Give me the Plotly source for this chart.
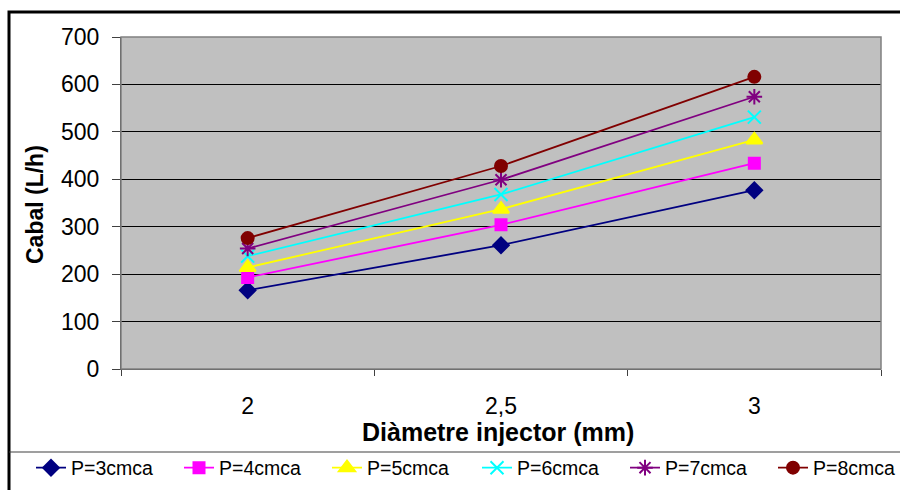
import plotly.graph_objects as go

categories = ["2", "2,5", "3"]
series_names = ["P=3cmca", "P=4cmca", "P=5cmca", "P=6cmca", "P=7cmca", "P=8cmca"]
p3 = [166, 261, 377]
p4 = [193, 304, 434]
p5 = [214, 337, 483]
p6 = [238, 368, 531]
p7 = [254, 399, 574]
p8 = [276, 428, 616]
y_ticks = [0, 100, 200, 300, 400, 500, 600, 700]

values = [p3, p4, p5, p6, p7, p8]
colors = ["#000080", "#FF00FF", "#FFFF00", "#00FFFF", "#800080", "#800000"]
symbols = ["diamond", "square", "triangle-up", "x-thin-open", "asterisk-open", "circle"]
sizes = [12, 11, 14, 13, 13, 12]
legend_groups = ["legend", "legend", "legend", "legend2", "legend2", "legend2"]

FONT = "Liberation Sans, Arial, sans-serif"
W, H = 900, 490
L, R, T, B = 121, 19, 37, 121
PW, PH = W - L - R, H - T - B

def px_x(x):
    return (x - L) / PW

def px_y(y):
    return (H - B - y) / PH

fig = go.Figure()
for name, vals, c, s, sz, lg in zip(series_names, values, colors, symbols, sizes, legend_groups):
    fig.add_trace(go.Scatter(
        x=categories, y=vals, name=name, mode="lines+markers",
        line=dict(color=c, width=1.8),
        marker=dict(symbol=s, size=sz, color=c, line=dict(color=c, width=2)),
        legend=lg,
    ))

legend_common = dict(
    orientation="h", xanchor="left", y=px_y(468), yanchor="middle",
    entrywidth=103, entrywidthmode="pixels",
    font=dict(size=19.5, family=FONT), bgcolor="rgba(0,0,0,0)",
    itemclick=False, itemdoubleclick=False,
)

fig.update_layout(
    width=W, height=H,
    margin=dict(l=L, r=R, t=T, b=B, autoexpand=False),
    paper_bgcolor="white",
    plot_bgcolor="#C0C0C0",
    font=dict(family=FONT, color="black"),
    showlegend=True,
    legend=dict(x=px_x(31), **legend_common),
    legend2=dict(x=px_x(477), **legend_common),
    xaxis=dict(
        type="category", range=[-0.5, 2.5], tickson="boundaries",
        ticks="outside", ticklen=6, tickcolor="#404040",
        showgrid=False, showline=True, linecolor="#404040", linewidth=1,
        tickfont=dict(size=23), ticklabelstandoff=16,
        zeroline=False,
    ),
    yaxis=dict(
        range=[0, 700], tickvals=y_ticks, ticks="outside", ticklen=8, tickcolor="#404040",
        showgrid=True, gridcolor="black", gridwidth=1,
        showline=True, linecolor="#404040", linewidth=1,
        tickfont=dict(size=23), ticklabelstandoff=8, zeroline=False,
    ),
    shapes=[
        dict(type="rect", xref="paper", yref="paper", x0=0, x1=1, y0=0, y1=1,
             line=dict(color="#808080", width=1.5), layer="above"),
        dict(type="rect", xref="paper", yref="paper",
             x0=px_x(9), x1=px_x(905), y0=px_y(12), y1=px_y(500),
             line=dict(color="black", width=3)),
        dict(type="line", xref="paper", yref="paper",
             x0=px_x(9), x1=px_x(900), y0=px_y(452), y1=px_y(452),
             line=dict(color="#404040", width=1.2)),
    ],
    annotations=[
        dict(text="<b>Diàmetre injector (mm)</b>", xref="paper", yref="paper",
             x=px_x(498), y=px_y(432), xanchor="center", yanchor="middle",
             showarrow=False, font=dict(size=25, family=FONT)),
        dict(text="<b>Cabal (L/h)</b>", xref="paper", yref="paper",
             x=px_x(35), y=px_y(205), xanchor="center", yanchor="middle", textangle=-90,
             showarrow=False, font=dict(size=23, family=FONT)),
    ],
)

fig.write_html("out.html")
